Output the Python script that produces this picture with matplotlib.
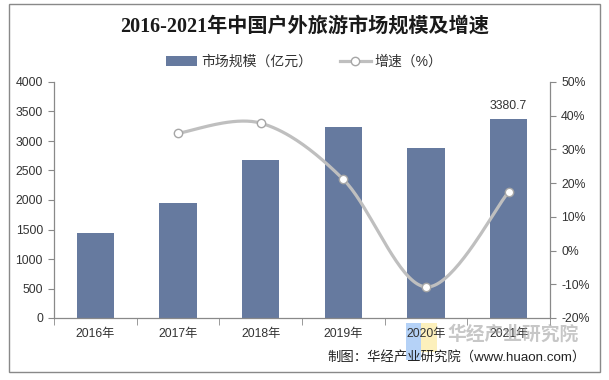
import numpy as np
import matplotlib
matplotlib.use('Agg')
import matplotlib.pyplot as plt
from matplotlib.lines import Line2D
from matplotlib.patches import Patch, Rectangle

# ---- data ----
years = ['2016年', '2017年', '2018年', '2019年', '2020年', '2021年']
market_size = [1445, 1945, 2680, 3240, 2880, 3380.7]
growth_idx = [1, 2, 3, 4, 5]
growth = [34.8, 37.8, 21.1, -10.8, 17.4]
left_ticks = [0, 500, 1000, 1500, 2000, 2500, 3000, 3500, 4000]
right_ticks = [-20, -10, 0, 10, 20, 30, 40, 50]
title = '2016-2021年中国户外旅游市场规模及增速'
bar_label = '市场规模（亿元）'
line_label = '增速（%）'
source = '制图：华经产业研究院（www.huaon.com）'

plt.rcParams['font.family'] = ['Liberation Sans', 'Noto Sans CJK SC']

W, H = 609, 380
fig = plt.figure(figsize=(W / 100, H / 100), dpi=100)
ax = fig.add_axes([54 / W, 1 - 318 / H, 496 / W, 236 / H])

x = np.arange(len(years))
bar_color = '#667A9F'
ax.bar(x, market_size, width=0.45, color=bar_color, zorder=2)
ax.set_xlim(-0.5, len(years) - 0.5)
ax.set_ylim(left_ticks[0], left_ticks[-1])
ax.set_yticks(left_ticks)
ax.set_yticklabels([str(v) for v in left_ticks])
ax.set_xticks(x)
ax.set_xticklabels(years)
ax.set_xticks(np.arange(-0.5, len(years)), minor=True)
ax.tick_params(axis='x', which='major', length=0, pad=7, labelsize=8.8, labelcolor='#333333')
ax.tick_params(axis='x', which='minor', length=5, direction='out', color='#898989')
ax.tick_params(axis='y', length=4, direction='out', color='#898989', labelsize=8.8,
               labelcolor='#333333', pad=4)

spine_c = '#898989'
for s in ['left', 'bottom']:
    ax.spines[s].set_color(spine_c)
    ax.spines[s].set_linewidth(0.9)
for s in ['top', 'right']:
    ax.spines[s].set_visible(False)

ax.annotate(f'{market_size[-1]}', xy=(x[-1], market_size[-1]), xytext=(0, 5),
            textcoords='offset points', ha='center', va='bottom', fontsize=8.8,
            color='#333333')

# secondary axis
ax2 = ax.twinx()
ax2.set_ylim(right_ticks[0], right_ticks[-1])
ax2.set_yticks(right_ticks)
ax2.set_yticklabels([f'{v}%' for v in right_ticks])
ax2.tick_params(axis='y', length=4, direction='out', color='#898989', labelsize=8.8,
                labelcolor='#333333', pad=4)
for s in ['left', 'bottom', 'top']:
    ax2.spines[s].set_visible(False)
ax2.spines['right'].set_color(spine_c)
ax2.spines['right'].set_linewidth(0.9)

# smoothed line (Catmull-Rom style Bezier, like Excel smoothing)
px = np.array(growth_idx, dtype=float)
py = np.array(growth, dtype=float)
P = np.column_stack([px, py])
Pext = np.vstack([P[0], P, P[-1]])
curve = []
t = np.linspace(0, 1, 40)[:, None]
for i in range(len(P) - 1):
    p0, p1, p2, p3 = Pext[i], Pext[i + 1], Pext[i + 2], Pext[i + 3]
    c1 = p1 + (p2 - p0) / 6
    c2 = p2 - (p3 - p1) / 6
    seg = ((1 - t) ** 3) * p1 + 3 * ((1 - t) ** 2) * t * c1 + 3 * (1 - t) * t ** 2 * c2 + t ** 3 * p2
    curve.append(seg)
curve = np.vstack(curve)
line_color = '#BFBFBF'
ax2.plot(curve[:, 0], curve[:, 1], color=line_color, lw=2.3, zorder=3, solid_capstyle='round')
ax2.plot(px, py, linestyle='none', marker='o', markersize=6, markerfacecolor='white',
         markeredgecolor='#A6A6A6', markeredgewidth=1.0, zorder=4)

# legend
handles = [Patch(facecolor=bar_color, edgecolor='none'),
           Line2D([0], [0], color=line_color, lw=2.3, marker='o', markersize=6,
                  markerfacecolor='white', markeredgecolor='#A6A6A6')]
fig.legend(handles, [bar_label, line_label], loc='center', bbox_to_anchor=(0.5, 1 - 62 / H),
           ncol=2, frameon=False, fontsize=10, handlelength=2.2, handleheight=0.7,
           columnspacing=2.0, handletextpad=0.3, labelcolor='#333333')

# title
fig.text(305 / W, 1 - 27 / H, title, ha='center', va='center', fontsize=14.5, fontweight='bold',
         family=['Liberation Serif', 'Noto Sans CJK SC'], color='#1a1a1a')

# watermark logo
fig.add_artist(Rectangle((406 / W, 1 - 360 / H), 15 / W, 37 / H, transform=fig.transFigure,
                         facecolor='#9CC3F5', edgecolor='none', alpha=0.75, zorder=0))
fig.add_artist(Rectangle((421 / W, 1 - 352 / H), 16 / W, 29 / H, transform=fig.transFigure,
                         facecolor='#FBEBA6', edgecolor='none', alpha=0.75, zorder=0))
fig.text(513 / W, 1 - 334 / H, '华经产业研究院', ha='center', va='center', fontsize=13.5,
         fontweight='bold', color='#9a9a9a', alpha=0.55, zorder=5)

# source
fig.text(586 / W, 1 - 358 / H, source, ha='right', va='center', fontsize=9.6, color='#222222')

# outer border
fig.add_artist(Rectangle((9 / W, 1 - 372 / H), 591 / W, 368 / H, transform=fig.transFigure,
                         fill=False, edgecolor='#898989', lw=1.0))

fig.savefig('out.png', dpi=100)
